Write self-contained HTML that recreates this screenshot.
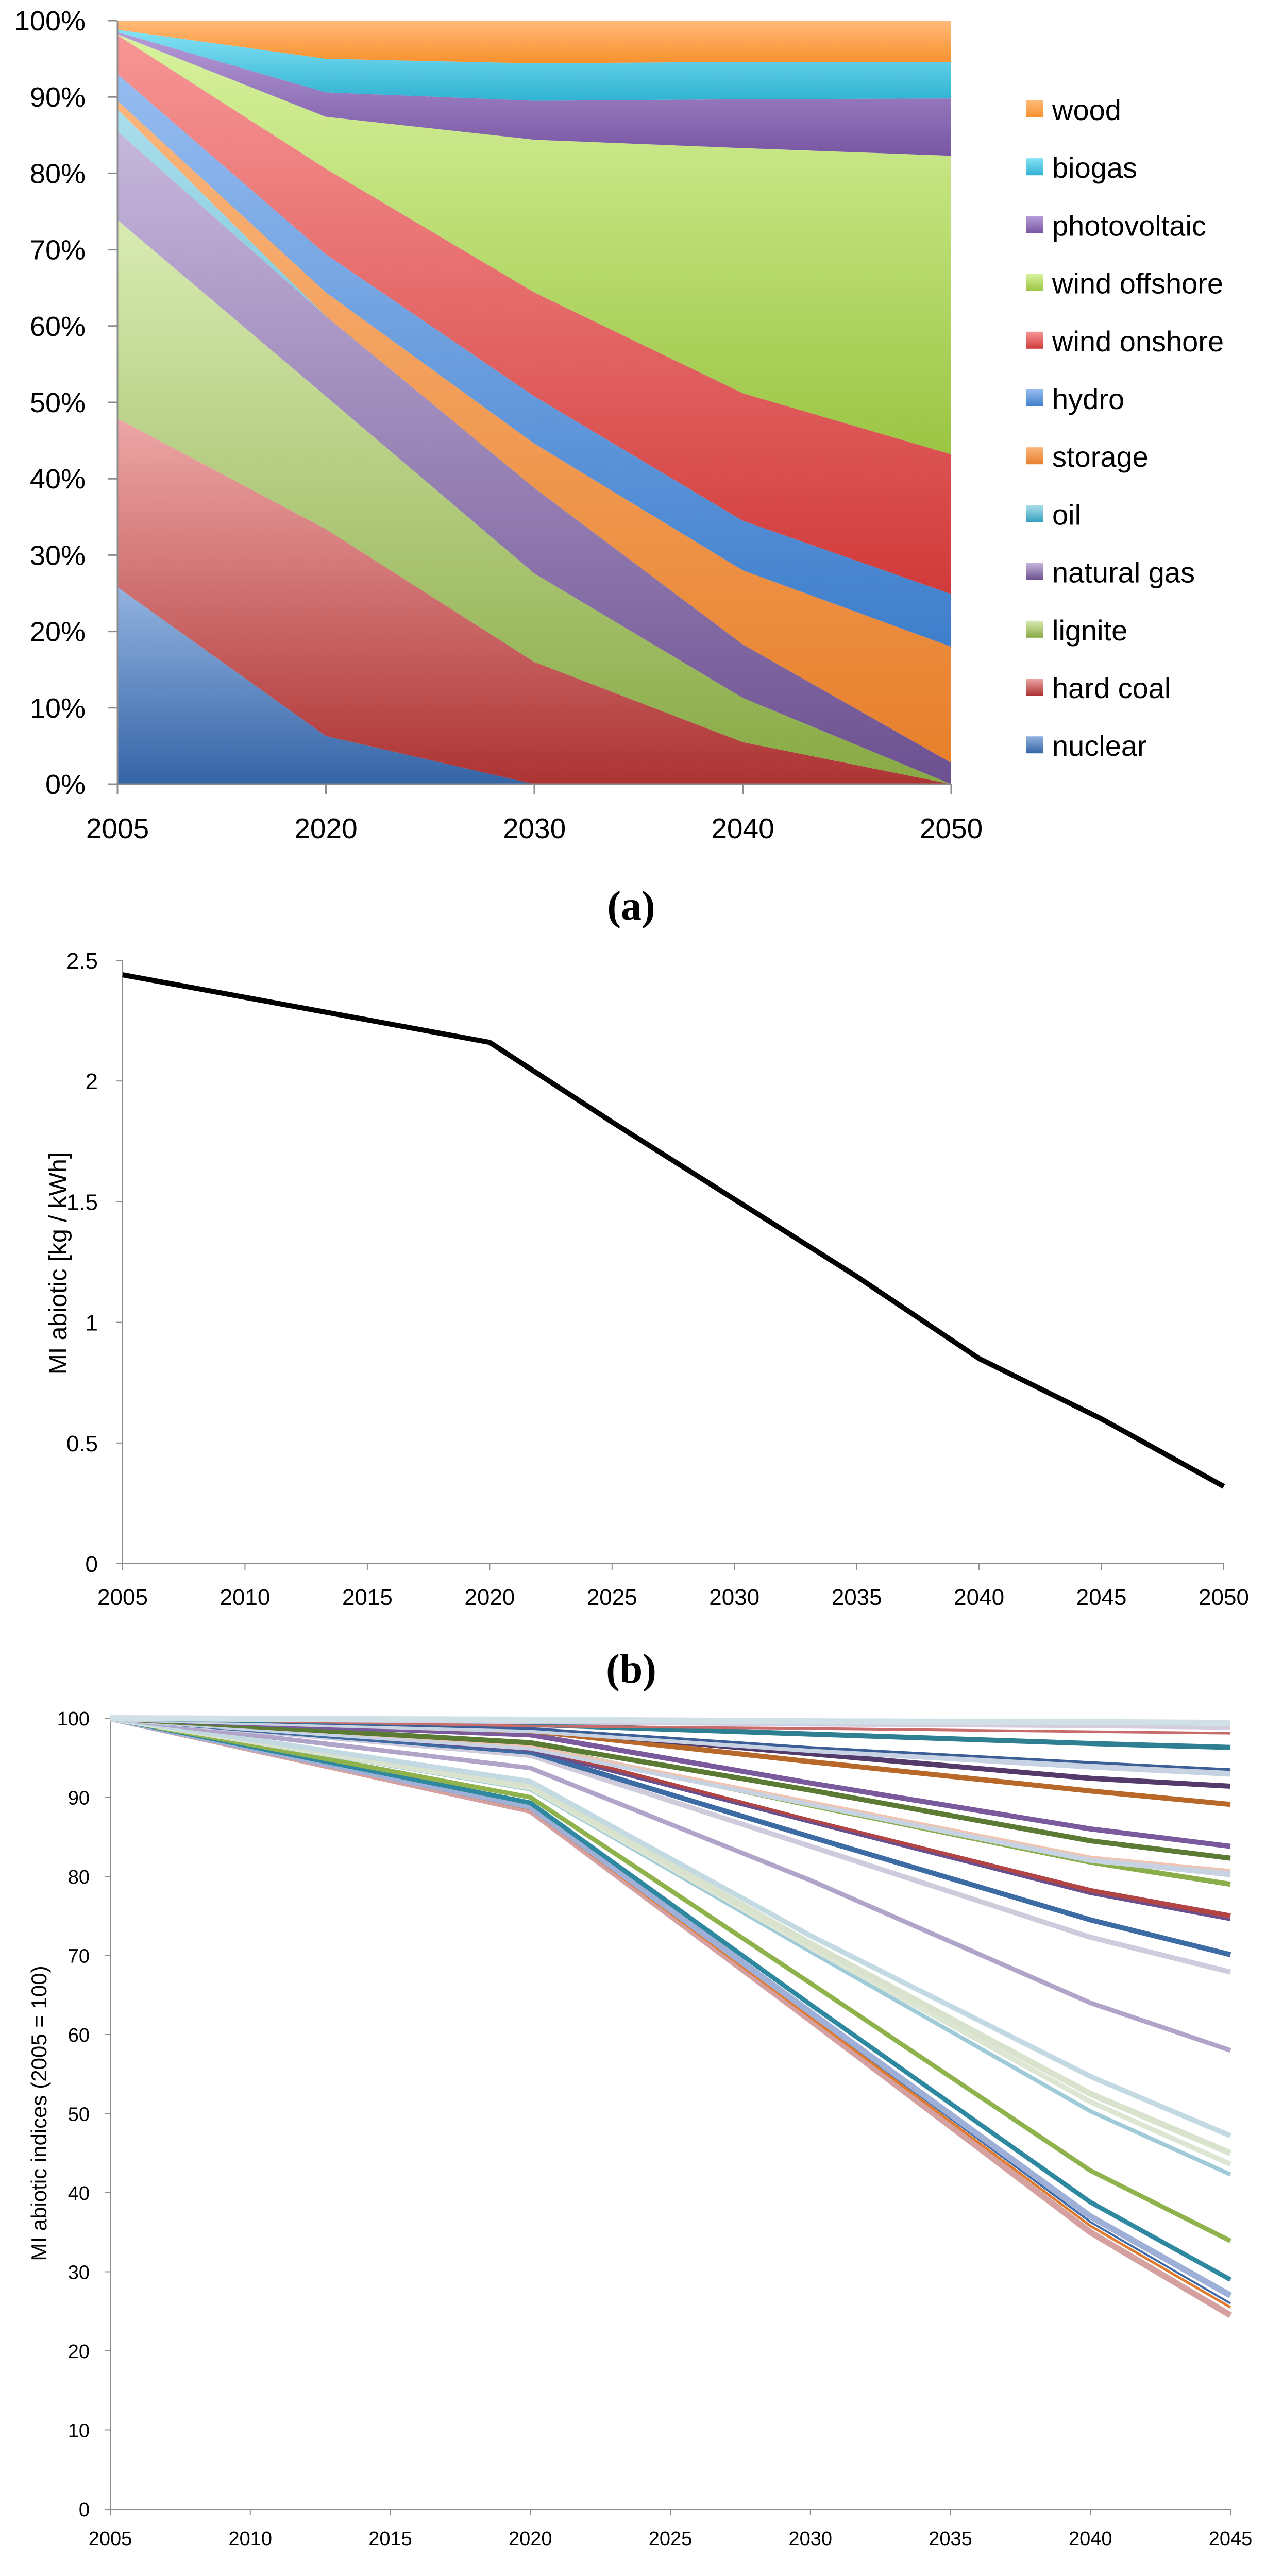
<!DOCTYPE html>
<html><head><meta charset="utf-8">
<style>
html,body{margin:0;padding:0;background:#fff;width:2457px;height:5152px;overflow:hidden;}
svg{display:block;font-family:"Liberation Sans",sans-serif;}
</style></head>
<body>
<svg id="fig" width="2457" height="5152" viewBox="0 0 2457 5152" xmlns="http://www.w3.org/2000/svg">
<defs id="defs"></defs>
<g id="chartA"></g>
<g id="chartB"></g>
<g id="chartC"></g>
<text x="1225" y="1785" text-anchor="middle" font-family="Liberation Serif, serif" font-weight="bold" font-size="80">(a)</text>
<text x="1225" y="3266" text-anchor="middle" font-family="Liberation Serif, serif" font-weight="bold" font-size="80">(b)</text>
<text x="1225" y="5090" text-anchor="middle" font-family="Liberation Serif, serif" font-weight="bold" font-size="80">(c)</text>
</svg>
<script>
// ---------- Chart A data ----------
const aCategories = ["2005","2020","2030","2040","2050"];
const aSeriesNames = ["nuclear","hard coal","lignite","natural gas","oil","storage","hydro","wind onshore","wind offshore","photovoltaic","biogas","wood"];
const aNuclear      = [25.8, 6.3, 0, 0, 0];
const aHardCoal     = [22.1, 27.1, 16.0, 5.5, 0];
const aLignite      = [26.0, 17.4, 11.6, 5.8, 0];
const aNaturalGas   = [11.6, 10.5, 11.2, 7.0, 2.8];
const aOil          = [2.9, 0, 0, 0, 0];
const aStorage      = [1.1, 3.1, 5.8, 9.7, 15.2];
const aHydro        = [3.5, 5.0, 6.2, 6.5, 6.9];
const aWindOnshore  = [5.1, 11.2, 13.6, 16.7, 18.3];
const aWindOffshore = [0.1, 6.8, 20.0, 32.1, 39.1];
const aPhotovoltaic = [0.3, 3.2, 5.1, 6.4, 7.5];
const aBiogas       = [0.3, 4.4, 4.9, 4.9, 4.8];
const aWood         = [1.2, 5.0, 5.6, 5.4, 5.4];
const aTicks = ["0%","10%","20%","30%","40%","50%","60%","70%","80%","90%","100%"];
const aTickValues = [0,10,20,30,40,50,60,70,80,90,100];

// ---------- Chart B data ----------
const bYears = [2005,2020,2025,2030,2035,2040,2045,2050];
const bValues = [2.44,2.16,1.83,1.51,1.19,0.85,0.60,0.32];
const bXTicks = [2005,2010,2015,2020,2025,2030,2035,2040,2045,2050];
const bYTicks = [0,0.5,1,1.5,2,2.5];
const bYTickLabels = ["0","0.5","1","1.5","2","2.5"];

// ---------- Chart C data ----------
const cYears = [2005,2020,2030,2040,2045];
const cXTicks = [2005,2010,2015,2020,2025,2030,2035,2040,2045];
const cYTicks = [0,10,20,30,40,50,60,70,80,90,100];
const cS01 = [100,99.8,99.6,99.5,99.4];
const cS02 = [100,99.5,99.2,99.0,98.8];
const cS03 = [100,99.6,99.3,99.0,98.9];
const cS04 = [100,99.0,98.7,98.3,98.1];
const cS05 = [100,99.2,98.0,96.8,96.3];
const cS06 = [100,98.7,96.3,94.4,93.5];
const cS07 = [100,98.5,96.0,93.9,93.0];
const cS08 = [100,98.6,95.5,92.4,91.4];
const cS09 = [100,98.4,94.5,90.8,89.1];
const cS10 = [100,97.9,91.8,86.0,83.8];
const cS11 = [100,96.9,90.9,84.5,82.3];
const cS12 = [100,96.5,89.5,82.5,80.8];
const cS13 = [100,96.3,89.2,82.1,80.3];
const cS14 = [100,96.2,89.0,82.0,80.0];
const cS15 = [100,96.5,89.0,81.8,79.0];
const cS16 = [100,95.9,86.8,77.8,74.5];
const cS17 = [100,96.2,87.0,78.2,75.0];
const cS18 = [100,95.7,85.0,74.5,70.1];
const cS19 = [100,95.3,83.8,72.3,67.9];
const cS20 = [100,93.7,79.5,64.0,58.0];
const cS21 = [100,92.0,72.5,54.7,47.2];
const cS22 = [100,91.5,71.5,52.5,45.0];
const cS23 = [100,91.2,71.0,51.5,43.6];
const cS24 = [100,91.0,70.5,50.3,42.3];
const cS25 = [100,90.0,66.5,42.8,33.9];
const cS26 = [100,89.3,63.8,38.8,29.0];
const cS27 = [100,88.8,62.8,37.0,27.0];
const cS28 = [100,88.6,62.5,36.3,26.0];
const cS29 = [100,88.5,62.2,35.8,25.5];
const cS30 = [100,88.3,61.8,35.0,24.5];

const NS = "http://www.w3.org/2000/svg";
function mk(tag, attrs, parent){
  const e = document.createElementNS(NS, tag);
  for (const k in attrs) e.setAttribute(k, attrs[k]);
  parent.appendChild(e);
  return e;
}
const defs = document.getElementById('defs');

// ================= Chart A =================
(function(){
  const g = document.getElementById('chartA');
  const X0 = 228, X1 = 1846, Y0 = 1522, Y1 = 40;
  const xs = i => X0 + (X1 - X0) * i / (aCategories.length - 1);
  const ys = v => Y0 - (Y0 - Y1) * v / 100;
  const series = [aNuclear,aHardCoal,aLignite,aNaturalGas,aOil,aStorage,aHydro,aWindOnshore,aWindOffshore,aPhotovoltaic,aBiogas,aWood];
  const cols = [["#93b3e0","#3464a6"],["#eda6a6","#ad3333"],["#d9ebb3","#88a944"],["#c6b7dc","#6c5090"],["#abdeec","#35a0bd"],["#fab57c","#e7802c"],["#96bcf0","#3e7ecb"],["#f79696","#d13a3a"],["#d8f29e","#9bc543"],["#b69cd8","#7856a3"],["#85e2f4","#30b3d3"],["#ffba78","#f8902d"]];
  const base = aCategories.map(() => 0);
  series.forEach((s, si) => {
    const gid = 'ga' + si;
    const lg = mk('linearGradient', {id: gid, x1: 0, y1: 0, x2: 0, y2: 1}, defs);
    mk('stop', {offset: '0', 'stop-color': cols[si][0]}, lg);
    mk('stop', {offset: '1', 'stop-color': cols[si][1]}, lg);
    const top = base.map((b, i) => b + s[i]);
    let d = '';
    top.forEach((v, i) => { d += (i ? 'L' : 'M') + xs(i) + ',' + ys(v); });
    for (let i = base.length - 1; i >= 0; i--) d += 'L' + xs(i) + ',' + ys(base[i]);
    d += 'Z';
    const p = mk('path', {d: d, fill: 'url(#' + gid + ')'}, g);
    
    
    top.forEach((v, i) => base[i] = v);
  });
  const ax = mk('path', {d: `M${X0},${Y1}V${Y0}H${X1}`, stroke: '#8c8c8c', 'stroke-width': 3, fill: 'none'}, g);
  
  
  aTickValues.forEach((v, i) => {
    mk('line', {x1: X0 - 18, x2: X0, y1: ys(v), y2: ys(v), stroke: '#8c8c8c', 'stroke-width': 3}, g);
    const t = mk('text', {x: 166, y: ys(v) + 19, 'text-anchor': 'end', 'font-size': 54, fill: '#000'}, g);
    t.textContent = aTicks[i];
    
    
  });
  aCategories.forEach((c, i) => {
    mk('line', {x1: xs(i), x2: xs(i), y1: Y0, y2: Y0 + 20, stroke: '#8c8c8c', 'stroke-width': 3}, g);
    const t = mk('text', {x: xs(i), y: 1627, 'text-anchor': 'middle', 'font-size': 55, fill: '#000'}, g);
    t.textContent = c;
    
    
  });
  for (let k = 0; k < series.length; k++) {
    const si = series.length - 1 - k;
    const y = 195 + k * 112.2;
    const lg = mk('g', {}, g);
    
    
    mk('rect', {x: 1991, y: y, width: 34, height: 33, fill: 'url(#ga' + si + ')'}, lg);
    const t = mk('text', {x: 2042, y: y + 38, 'font-size': 56, fill: '#000'}, lg);
    t.textContent = aSeriesNames[si];
  }
})();

// ================= Chart B =================
(function(){
  const g = document.getElementById('chartB');
  const X0 = 238, X1 = 2375, Y0 = 3035, Y1 = 1864;
  const xs = yr => X0 + (X1 - X0) * (yr - 2005) / 45;
  const ys = v => Y0 - (Y0 - Y1) * v / 2.5;
  const ax = mk('path', {d: `M${X0},${Y1}V${Y0}H${X1}`, stroke: '#8c8c8c', 'stroke-width': 2, fill: 'none'}, g);
  
  
  bYTicks.forEach((v, i) => {
    mk('line', {x1: X0 - 12, x2: X0, y1: ys(v), y2: ys(v), stroke: '#8c8c8c', 'stroke-width': 2}, g);
    const t = mk('text', {x: 190, y: ys(v) + 16, 'text-anchor': 'end', 'font-size': 44, fill: '#000'}, g);
    t.textContent = bYTickLabels[i];
    
    
  });
  bXTicks.forEach(yr => {
    mk('line', {x1: xs(yr), x2: xs(yr), y1: Y0, y2: Y0 + 12, stroke: '#8c8c8c', 'stroke-width': 2}, g);
    const t = mk('text', {x: xs(yr), y: 3115, 'text-anchor': 'middle', 'font-size': 44, fill: '#000'}, g);
    t.textContent = yr;
    
    
  });
  const tt = mk('text', {x: 0, y: 0, 'text-anchor': 'middle', 'font-size': 48, fill: '#000', transform: 'translate(129,2452) rotate(-90)'}, g);
  tt.textContent = 'MI abiotic [kg / kWh]';
  
  
  const pts = bYears.map((yr, i) => xs(yr) + ',' + ys(bValues[i])).join(' ');
  const pl = mk('polyline', {points: pts, fill: 'none', stroke: '#000', 'stroke-width': 10, 'stroke-linejoin': 'round'}, g);
  
  
})();

// ================= Chart C =================
(function(){
  const g = document.getElementById('chartC');
  const X0 = 214, X1 = 2388, Y0 = 4870, Y1 = 3335;
  const xs = yr => X0 + (X1 - X0) * (yr - 2005) / 40;
  const ys = v => Y0 - (Y0 - Y1) * v / 100;
  const ax = mk('path', {d: `M${X0},${Y1}V${Y0}H${X1}`, stroke: '#8c8c8c', 'stroke-width': 2, fill: 'none'}, g);
  
  
  cYTicks.forEach(v => {
    mk('line', {x1: X0 - 10, x2: X0, y1: ys(v), y2: ys(v), stroke: '#8c8c8c', 'stroke-width': 2}, g);
    const t = mk('text', {x: 174, y: ys(v) + 14, 'text-anchor': 'end', 'font-size': 38, fill: '#000'}, g);
    t.textContent = v;
    
    
  });
  cXTicks.forEach(yr => {
    mk('line', {x1: xs(yr), x2: xs(yr), y1: Y0, y2: Y0 + 12, stroke: '#8c8c8c', 'stroke-width': 2}, g);
    const t = mk('text', {x: xs(yr), y: 4940, 'text-anchor': 'middle', 'font-size': 38, fill: '#000'}, g);
    t.textContent = yr;
    
    
  });
  const tt = mk('text', {x: 0, y: 0, 'text-anchor': 'middle', 'font-size': 42, fill: '#000', transform: 'translate(90,4102) rotate(-90)'}, g);
  tt.textContent = 'MI abiotic indices (2005 = 100)';
  
  
  const series = [cS30,cS29,cS28,cS27,cS26,cS25,cS24,cS23,cS22,cS21,cS20,cS19,cS18,cS17,cS16,cS15,cS14,cS13,cS12,cS11,cS10,cS09,cS08,cS07,cS06,cS05,cS04,cS03,cS02,cS01];
  const cols = ["#d4a0a0","#e07a2e","#3c6aa8","#9fb0d8","#2e889f","#8fb24c","#9fcad8","#dde5d3","#d8e2cc","#c4dae3","#b0a4c8","#d0cbdc","#3d6ba4","#b24444","#6a4f8e","#8aae4a","#3b8aa0","#c7d2e3","#f2c4b0","#5b7a33","#7a5a9d","#b8692a","#533a6b","#c7d2e3","#3a5e95","#2e7f91","#c96b6b","#7f9fd0","#d3cde0","#d0e0e6"];
  const widths = [12,5,4,12,9,9,8,10,12,10,9,10,10,10,5,10,3,12,4,10,10,10,10,12,5,10,5,5,8,12];
  series.forEach((s, si) => {
    const pts = cYears.map((yr, i) => xs(yr) + ',' + ys(s[i])).join(' ');
    const pl = mk('polyline', {points: pts, fill: 'none', stroke: cols[si], 'stroke-width': widths[si], 'stroke-linejoin': 'round'}, g);
    
    
  });
})();
</script>
</body></html>
